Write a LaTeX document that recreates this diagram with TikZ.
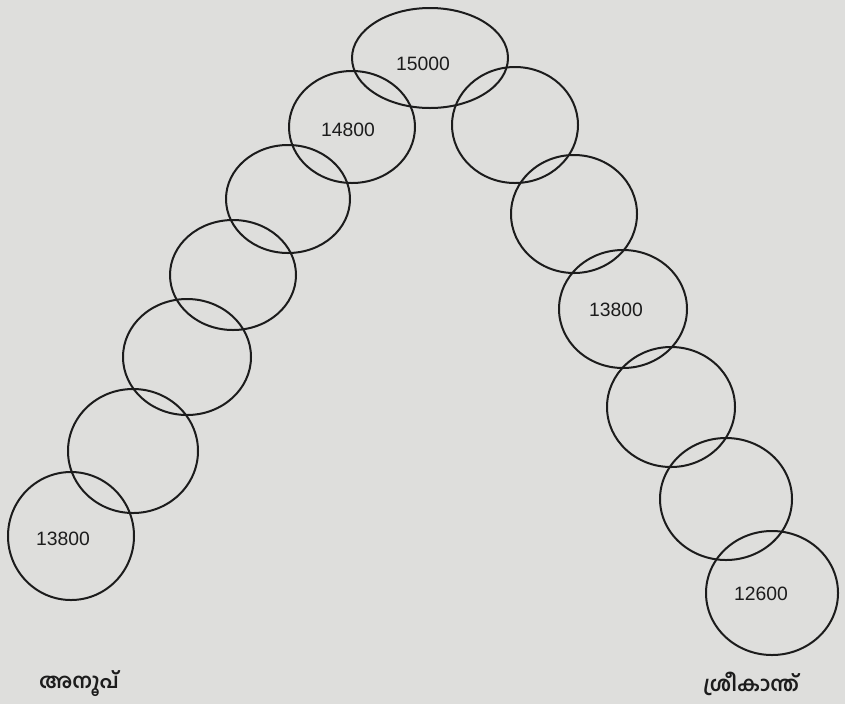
\documentclass[tikz,border=0pt]{standalone}
\usepackage{fontspec}
\setmainfont{Liberation Sans}
\newfontfamily\mlfont[Script=Malayalam]{Hind Kochi}
\usetikzlibrary{shapes.geometric}
\definecolor{paper}{RGB}{222,222,220}
\definecolor{ink}{RGB}{28,28,28}
\tikzset{
  ring/.style={draw=ink, line width=1.5pt, ellipse, inner sep=0pt, outer sep=0pt},
  amount/.style={text=ink, font=\fontsize{14.5}{15}\selectfont, inner sep=0pt},
  person/.style={text=ink, font=\mlfont\bfseries\fontsize{15.5}{16}\selectfont, inner sep=0pt}
}
\newcommand\ringat[5]{\node[ring, minimum width=#4*1.5pt, minimum height=#5*1.5pt] (#1) at (#2,#3) {};}
\begin{document}
\begin{tikzpicture}[x=0.75pt, y=-0.75pt]
\path[use as bounding box, fill=paper] (0,0) rectangle (845,704);
% left arm
\ringat{l1}{71}{536}{63}{64}
\ringat{l2}{133}{451}{65}{62}
\ringat{l3}{187}{357}{64}{58}
\ringat{l4}{233}{275}{63}{55}
\ringat{l5}{288}{199}{62}{54}
\ringat{l6}{352}{127}{63}{56}
% top
\ringat{top}{430}{58}{78}{50}
% right arm
\ringat{r1}{515}{125}{63}{58}
\ringat{r2}{574}{214}{63}{59}
\ringat{r3}{623}{309}{64}{59}
\ringat{r4}{671}{407}{64}{60}
\ringat{r5}{726}{499}{66}{61}
\ringat{r6}{772}{593}{66}{62}
% amounts
\node[amount] (tl1) at (63,539) {13800};
\node[amount] (tl6) at (348,130) {14800};
\node[amount] (ttop) at (423,64) {15000};
\node[amount] (tr3) at (616,310) {13800};
\node[amount] (tr6) at (761,594) {12600};
% names
\node[person] (anoop) at (79,684) {അനൂപ്};
\node[person] (sreekanth) at (751,684) {ശ്രീകാന്ത്};
\end{tikzpicture}
\end{document}
